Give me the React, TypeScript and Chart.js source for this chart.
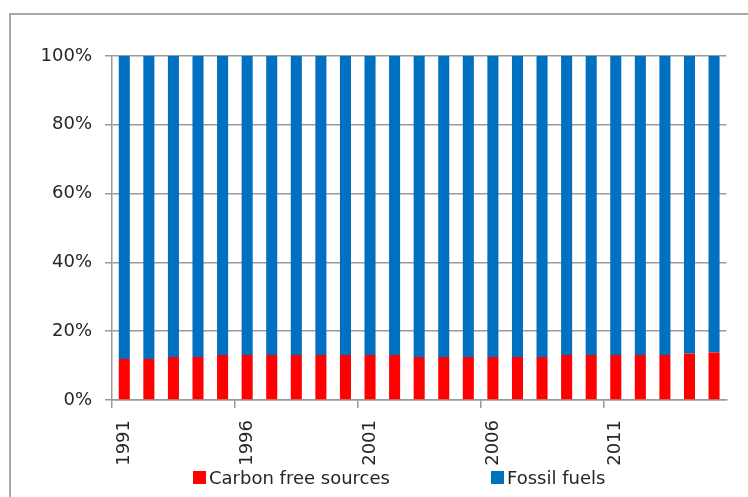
import React, { useEffect, useRef } from "react";
import { Chart, registerables } from "chart.js";

Chart.register(...registerables);

const years = [
  "1991", "1992", "1993", "1994", "1995", "1996", "1997", "1998", "1999", "2000",
  "2001", "2002", "2003", "2004", "2005", "2006", "2007", "2008", "2009", "2010",
  "2011", "2012", "2013", "2014", "2015",
];
const carbonFree = [
  11.9, 11.9, 12.5, 12.5, 13.1, 13.1, 13.1, 13.1, 13.1, 13.1,
  13.1, 13.1, 12.5, 12.5, 12.5, 12.5, 12.5, 12.5, 13.1, 13.1,
  13.1, 13.1, 13.1, 13.5, 13.8,
];
const fossilFuels = [
  88.1, 88.1, 87.5, 87.5, 86.9, 86.9, 86.9, 86.9, 86.9, 86.9,
  86.9, 86.9, 87.5, 87.5, 87.5, 87.5, 87.5, 87.5, 86.9, 86.9,
  86.9, 86.9, 86.9, 86.5, 86.2,
];
const yTicks = [0, 20, 40, 60, 80, 100];
const seriesNames = ["Carbon free sources", "Fossil fuels"];
const seriesColors = ["#ff0000", "#0070c0"];

const FONT = "'DejaVu Sans', sans-serif";
const TEXT = "#262626";
const AXIS = "#9a9a9a";

export default function App() {
  const ref = useRef<HTMLCanvasElement | null>(null);

  useEffect(() => {
    if (!ref.current) return;
    const chart = new Chart(ref.current, {
      type: "bar",
      data: {
        labels: years,
        datasets: [
          {
            label: seriesNames[0],
            data: carbonFree,
            backgroundColor: seriesColors[0],
            barPercentage: 0.45,
            categoryPercentage: 1,
          },
          {
            label: seriesNames[1],
            data: fossilFuels,
            backgroundColor: seriesColors[1],
            barPercentage: 0.45,
            categoryPercentage: 1,
          },
        ],
      },
      options: {
        animation: false,
        responsive: true,
        maintainAspectRatio: false,
        layout: { padding: { left: 0, top: 56, right: 17, bottom: 0 } },
        plugins: {
          legend: { display: false },
          tooltip: { enabled: false },
        },
        scales: {
          x: {
            stacked: true,
            afterFit: (s: any) => {
              s.height = 97;
            },
            border: { color: AXIS, width: 1.5 },
            grid: {
              offset: true,
              drawOnChartArea: false,
              drawTicks: true,
              tickLength: 8,
              lineWidth: 1.5,
              color: (ctx: any) => (ctx.index % 5 === 0 ? AXIS : "rgba(0,0,0,0)"),
            },
            ticks: {
              autoSkip: false,
              maxRotation: 90,
              minRotation: 90,
              padding: 12,
              color: TEXT,
              font: { family: FONT, size: 18 },
              callback: (_v: any, i: number) => (i % 5 === 0 ? years[i] : ""),
            },
          },
          y: {
            stacked: true,
            min: 0,
            max: 100,
            afterFit: (s: any) => {
              s.width = 112;
            },
            afterBuildTicks: (s: any) => {
              s.ticks = yTicks.map((v) => ({ value: v }));
            },
            border: { color: AXIS, width: 1.5 },
            grid: {
              color: AXIS,
              lineWidth: 1.5,
              drawTicks: true,
              tickLength: 7,
            },
            ticks: {
              padding: 13,
              color: TEXT,
              font: { family: FONT, size: 18 },
              callback: (v: any) => v + "%",
            },
          },
        },
      },
    });
    return () => chart.destroy();
  }, []);

  const legendItem = (i: number, left: number) => (
    <div
      key={i}
      style={{
        position: "absolute",
        left,
        top: 466,
        height: 22,
        display: "flex",
        alignItems: "center",
        fontFamily: FONT,
        fontSize: 18,
        color: TEXT,
        whiteSpace: "nowrap",
      }}
    >
      <span
        style={{
          display: "inline-block",
          width: 13,
          height: 13,
          background: seriesColors[i],
          marginRight: 3,
        }}
      />
      <span>{seriesNames[i]}</span>
    </div>
  );

  return (
    <div
      style={{
        position: "fixed",
        left: 0,
        top: 0,
        width: 748,
        height: 497,
        overflow: "hidden",
        background: "#ffffff",
      }}
    >
      <div
        style={{
          position: "absolute",
          left: 9,
          top: 13,
          width: 800,
          height: 560,
          border: "2px solid #a8a8a8",
        }}
      />
      <div style={{ position: "absolute", left: 0, top: 0, width: 748, height: 497 }}>
        <canvas ref={ref} />
      </div>
      {legendItem(0, 193)}
      {legendItem(1, 491)}
    </div>
  );
}
